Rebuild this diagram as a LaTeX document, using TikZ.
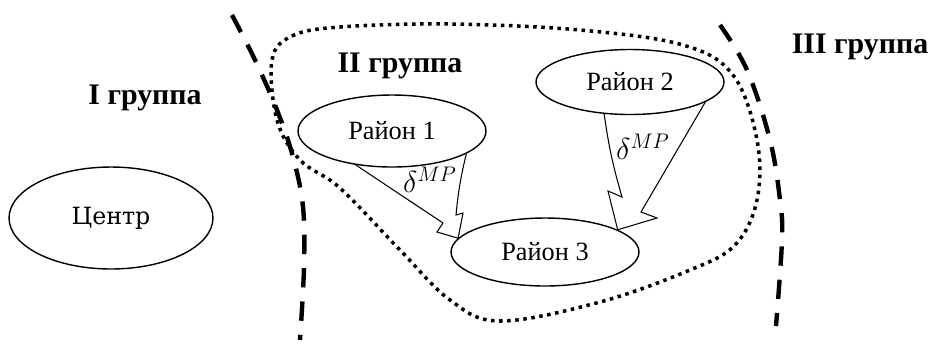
\documentclass[tikz,border=0pt]{standalone}
\usepackage{fontspec}
\setmainfont{Liberation Serif}
\newfontfamily\centrfont{DejaVu Serif}
\usetikzlibrary{shapes.geometric}
\begin{document}
\begin{tikzpicture}[x=0.02cm, y=-0.02cm,
  region/.style={draw, ellipse, line width=0.8pt, inner sep=0pt, minimum width=3.76cm, minimum height=1.36cm, font=\fontsize{15}{17}\selectfont},
  grp/.style={font=\fontsize{17}{19}\selectfont\bfseries},
  border/.style={line width=2.5pt, dash pattern=on 11pt off 8pt},
  bolt/.style={line width=0.6pt, line join=miter},
  dlabel/.style={font=\fontsize{18}{20}\selectfont}]
  \useasboundingbox (0,0) rectangle (929,343);

  % group boundaries
  \draw[border] plot[smooth, tension=0.6] coordinates {(232,15) (255,60) (277,110) (293,157) (303,207) (304,267) (300,340)};
  \draw[border] plot[smooth, tension=0.6] coordinates {(720,25) (747,70) (770,140) (780,200) (782,240) (776,326)};

  % outline of group II
  \draw[line width=2pt, dash pattern=on 2pt off 2.6pt]
    plot[smooth cycle, tension=0.6] coordinates {(272,60) (292,36) (340,27) (450,24) (580,30) (683,45) (733,75) (757,140) (757,200) (735,245) (690,270) (600,302) (500,321) (450,300) (400,250) (340,188) (300,160) (277,120)};

  % districts
  \node[region, minimum width=4.08cm, minimum height=2.04cm, font=\centrfont\fontsize{13.5}{15}\selectfont] (centr) at (111,218) {Центр};
  \node[region, minimum height=1.44cm] (r1) at (392,131) {Район 1};
  \node[region, minimum height=1.3cm] (r2) at (630,82) {Район 2};
  \node[region] (r3) at (545,252) {Район 3};

  % group labels
  \node[grp] (g1) at (145,98) {I группа};
  \node[grp] (g2) at (400,66) {II группа};
  \node[grp] (g3) at (860,47) {III группа};

  % flows
  \draw[bolt] (r1.223) -- (443,223) -- (437,232) -- (r3.171) -- (463,213) -- (456,215) to[bend left=4] (r1.-17);
  \node[dlabel] (d1) at (430,180) {$\delta^{MP}$};
  \draw[bolt] (r2.231) to[bend right=4] (622,197) -- (608,191) -- (r3.17) -- (657,218) -- (641,212) -- (r2.-15);
  \node[dlabel] (d2) at (643,147) {$\delta^{MP}$};
\end{tikzpicture}
\end{document}
